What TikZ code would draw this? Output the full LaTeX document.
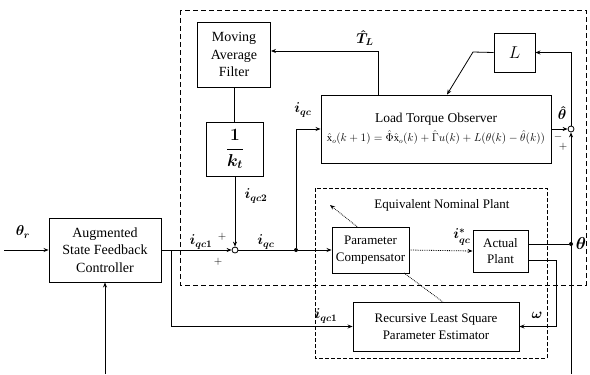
\documentclass[tikz,border=0pt]{standalone}
\usepackage{amsmath,amssymb}
\usepackage{graphicx}
\usepackage{fontspec}
\setmainfont{Liberation Serif}
\usetikzlibrary{arrows.meta,calc}
\tikzset{
  blk/.style={draw, line width=0.9bp, align=center, inner sep=1bp, font=\fontsize{13bp}{16.5bp}\selectfont},
  bigblk/.style={blk, font=\fontsize{14bp}{17.5bp}\selectfont},
  wire/.style={line width=0.8bp},
  arr/.style={wire, -{Stealth[length=5bp,width=4bp]}},
  dotarr/.style={wire, densely dotted, -{Stealth[length=5bp,width=4bp]}},
  sumc/.style={circle, draw, line width=0.8bp, fill=white, minimum size=6bp, inner sep=0pt},
  bdot/.style={circle, fill=black, minimum size=4bp, inner sep=0pt},
  lbl/.style={font=\fontsize{14bp}{16bp}\selectfont, inner sep=0pt},
  sgn/.style={font=\fontsize{11bp}{12bp}\selectfont, inner sep=0pt},
  outerbox/.style={line width=0.8bp, dash pattern=on 5bp off 3bp},
  enpbox/.style={line width=0.8bp, dash pattern=on 4bp off 2bp}
}
\begin{document}
\begin{tikzpicture}[x=1bp,y=-1bp]
\useasboundingbox[fill=white] (0,0) rectangle (590,374);

% dashed frames
\draw[outerbox] (180,10) rectangle (586,285);
\draw[enpbox] (315,188) rectangle (547,358);

% blocks
\node[bigblk, minimum width=73bp, minimum height=65bp] (maf) at (234,54.5) {Moving\\Average\\Filter};
\node[blk, minimum width=57bp, minimum height=54bp, font=\fontsize{17bp}{20bp}\selectfont] (kt) at (235,149) {$\boldsymbol{\dfrac{1}{k_t}}$};
\node[blk, minimum width=41bp, minimum height=39bp, font=\fontsize{18bp}{20bp}\selectfont] (L) at (514.5,52.5) {$L$};
\node[blk, minimum width=230bp, minimum height=68bp, font=\fontsize{13.5bp}{16bp}\selectfont] (lto) at (436,129)
  {Load Torque Observer\\[3bp]
   \resizebox{218bp}{!}{$\hat{\mathrm{x}}_{o}(k+1)=\hat{\Phi}\hat{\mathrm{x}}_{o}(k)+\hat{\Gamma}u(k)+L(\theta(k)-\hat{\theta}(k))$}};
\node[bigblk, minimum width=112bp, minimum height=64bp] (ctrl) at (105,250) {Augmented\\State Feedback\\Controller};
\node[blk, minimum width=77bp, minimum height=46bp] (pc) at (370.5,250) {Parameter\\Compensator};
\node[blk, minimum width=55bp, minimum height=42bp] (ap) at (500.5,251) {Actual\\Plant};
\node[blk, minimum width=166bp, minimum height=49bp] (rls) at (436,326.5) {Recursive Least Square\\Parameter Estimator};
\node[font=\fontsize{13bp}{15bp}\selectfont, inner sep=0pt] (enpt) at (442,205) {Equivalent Nominal Plant};

% junctions
\node[sumc] (sum1) at (235,250) {};
\node[sumc] (sum2) at (571,129) {};
\node[bdot] (dot1) at (296,250) {};
\node[bdot] (dot2) at (571,244) {};

% helper coordinates
\coordinate (tin) at (4,250);
\coordinate (cb) at (171,250);
\coordinate (tl) at (378,51);
\coordinate (lk) at (473,52);
\coordinate (lin) at (447,0);
\coordinate (wc) at (556,260);
\coordinate (bot2) at (571,374);
\coordinate (bot1) at (105,374);
\coordinate (pcu) at (330,205);
\coordinate (pcd) at (404,273);
\coordinate (rlsu) at (443,302);

% connectors
\draw[arr] (tin) -- (ctrl.west);
\draw[arr] (ctrl.east) -- (sum1.west);
\draw[wire] (maf.south) -- (maf.south |- kt.north);
\draw[arr] (kt.south) -- (sum1.north);
\draw[wire] (sum1.east) -- (dot1);
\draw[arr] (dot1) -- (pc.west);
\draw[arr] (dot1) |- (lto.west);
\draw[arr] (lto.north -| tl) -- (tl) -- (tl -| maf.east);
\draw[arr] (L.west) -- (lk) -- (lto.north -| lin);
\draw[arr] (lto.east) -- (sum2.west);
\draw[arr] (sum2.north) |- (L.east);
\draw[arr] (bot2) -- (sum2.south);
\draw[wire] (ap.east |- dot2) -- (dot2);
\draw[arr] (ap.east |- wc) -- (wc) |- (rls.east);
\draw[dotarr] (pc.east) -- (ap.west);
\draw[arr] (cb) |- (rls.west);
\draw[arr] (bot1) -- (ctrl.south);
\draw[dotarr] (pc.north -| 357,0) -- (pcu);
\draw[wire, densely dotted] (pcd) -- (rlsu);

% labels
\node[lbl] at (23,232) {$\boldsymbol{\theta_r}$};
\node[lbl] at (201,242) {$\boldsymbol{i_{qc1}}$};
\node[sgn] at (222,237) {$+$};
\node[sgn] at (218,262) {$+$};
\node[lbl] at (256,196) {$\boldsymbol{i_{qc2}}$};
\node[lbl] at (266,242) {$\boldsymbol{i_{qc}}$};
\node[lbl] at (303,110) {$\boldsymbol{i_{qc}}$};
\node[lbl] at (365,38) {$\boldsymbol{\hat{T}_L}$};
\node[lbl] at (562,113) {$\boldsymbol{\hat{\theta}}$};
\node[sgn] at (558,137) {$-$};
\node[sgn] at (563,147) {$+$};
\node[lbl, font=\fontsize{16bp}{18bp}\selectfont] at (581,244) {$\boldsymbol{\theta}$};
\node[lbl] at (462,237) {$\boldsymbol{i^{*}_{qc}}$};
\node[lbl] at (537,315) {$\boldsymbol{\omega}$};
\node[lbl] at (326,316) {$\boldsymbol{i_{qc1}}$};
\end{tikzpicture}
\end{document}
